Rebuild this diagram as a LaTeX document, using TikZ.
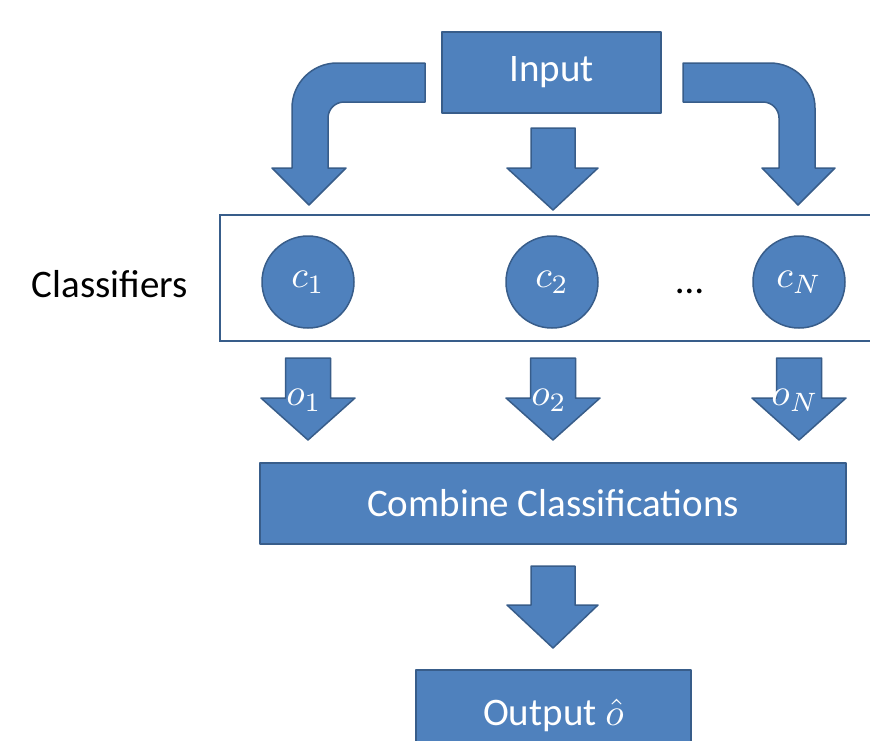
\documentclass[tikz,border=0pt]{standalone}
\usepackage{fontspec}
\setmainfont{Carlito}
\definecolor{boxfill}{HTML}{4F81BD}
\definecolor{boxline}{HTML}{385D8A}
\newcommand{\bigmath}[1]{\scalebox{3.8}{\normalsize$#1$}}
\tikzset{
  shapefill/.style={fill=boxfill, draw=boxline, line width=1.5pt, line join=round},
  bluebox/.style={shapefill, rectangle, inner sep=0pt, text=white, font=\fontsize{39}{47}\selectfont},
  clsnode/.style={shapefill, circle, minimum size=92pt, inner sep=0pt, text=white, font=\fontsize{39}{47}\selectfont},
  olabel/.style={text=white, inner sep=0pt},
  plaintext/.style={inner sep=0pt, font=\fontsize{39}{47}\selectfont}
}
\begin{document}
\begin{tikzpicture}[x=1pt,y=-1pt]
\useasboundingbox (0,0) rectangle (870,740);
\clip (0,0) rectangle (870,740);
\fill[white] (0,0) rectangle (870,740);

% Input
\node[bluebox, minimum width=219pt, minimum height=81pt] (input) at (551.5,72.5) {Input};

% left bent arrow
\draw[shapefill] (425,63) -- (337,63) .. controls (312.2,63) and (292,83.2) .. (292,108)
  -- (292,168) -- (272,168) -- (309,205) -- (346,168) -- (328,168) -- (328,118)
  .. controls (328,109.2) and (335.2,102) .. (344,102) -- (425,102) -- cycle;
% right bent arrow
\draw[shapefill] (683,63) -- (770,63) .. controls (794.8,63) and (815,83.2) .. (815,108)
  -- (815,168) -- (835,168) -- (798,205) -- (762,168) -- (779,168) -- (779,118)
  .. controls (779,109.2) and (771.8,102) .. (763,102) -- (683,102) -- cycle;
% middle arrow
\draw[shapefill] (531,128) -- (575,128) -- (575,168) -- (598,168) -- (553,210) -- (507,168) -- (531,168) -- cycle;

% classifiers frame
\draw[draw=boxline, line width=2.5pt] (920,215) -- (220,215) -- (220,341) -- (920,341);
\node[plaintext, anchor=base] (lbl) at (110,297) {Classifiers};

\node[clsnode] (c1) at (308,282) {\bigmath{c_1}};
\node[clsnode] (c2) at (552,282) {\bigmath{c_2}};
\node[clsnode] (cN) at (799,282) {\bigmath{c_N}};
\node[plaintext, anchor=base] (dots) at (690,293) {…};

% output arrows
\foreach \cx/\nm/\lab in {308/o1/{o_1}, 553/o2/{o_2}, 799/oN/{o_N}}{
  \draw[shapefill] (\cx-22.5,358) -- (\cx+22.5,358) -- (\cx+22.5,398) -- (\cx+47,398)
     -- (\cx,440) -- (\cx-47,398) -- (\cx-22.5,398) -- cycle;
  \node[olabel] (\nm) at (\cx-4,400) {\bigmath{\lab}};
}

% combine
\node[bluebox, minimum width=586pt, minimum height=81pt] (comb) at (553,503.5) {Combine Classifications};

% bottom arrow
\draw[shapefill] (531,566) -- (575,566) -- (575,605) -- (598,605) -- (553,648) -- (507,605) -- (531,605) -- cycle;

% output
\node[bluebox, minimum width=275pt, minimum height=90pt] (out) at (553.5,715) {Output \bigmath{\hat{o}}};
\end{tikzpicture}
\end{document}
